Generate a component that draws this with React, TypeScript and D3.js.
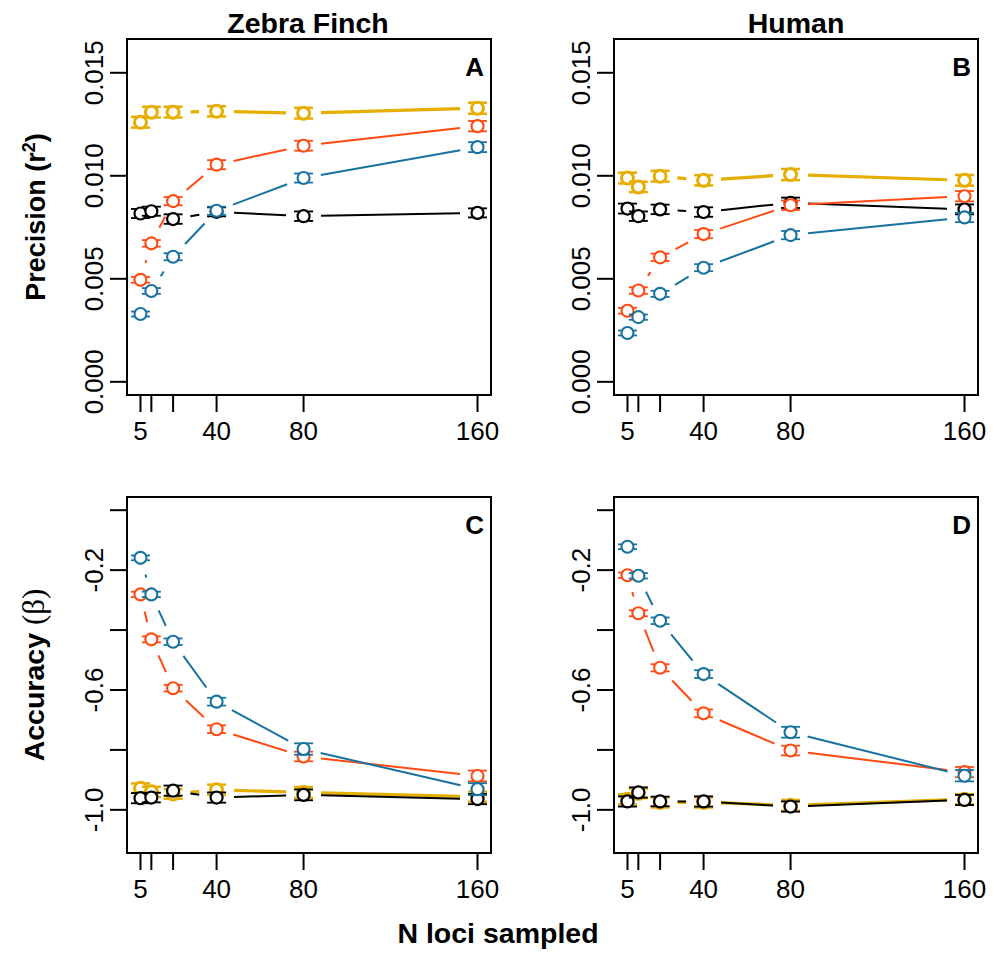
import React from "react";
import * as d3 from "d3";

// ---- data ----
const nLoci = [5, 10, 20, 40, 80, 160];
const xTickValues = [5, 10, 20, 40, 80, 160];
const xTickLabels = ["5", "", "", "40", "80", "160"];
const precisionTicks = [0, 0.005, 0.01, 0.015];
const precisionTickLabels = ["0.000", "0.005", "0.010", "0.015"];
const accuracyTicks = [0, -0.2, -0.4, -0.6, -0.8, -1.0];
const accuracyTickLabels = ["", "-0.2", "", "-0.6", "", "-1.0"];

// Precision, Zebra Finch (A)
const yellowA = [0.0126, 0.01309, 0.01309, 0.01313, 0.01304, 0.01328];
const blackA = [0.00817, 0.00828, 0.0079, 0.00825, 0.00804, 0.0082];
const orangeA = [0.00495, 0.00672, 0.00877, 0.01054, 0.01146, 0.01241];
const blueA = [0.00329, 0.00441, 0.00607, 0.0083, 0.00989, 0.01139];
const yellowErrA = [0.00026, 0.00026, 0.00026, 0.00025, 0.00026, 0.00027];
const blackErrA = [0.00022, 0.00022, 0.00023, 0.00022, 0.00023, 0.00022];
const orangeErrA = [0.00014, 0.00016, 0.0002, 0.00022, 0.00024, 0.00025];
const blueErrA = [0.00012, 0.00014, 0.00017, 0.0002, 0.00022, 0.00024];

// Precision, Human (B)
const yellowB = [0.00989, 0.00946, 0.00998, 0.00978, 0.01006, 0.00978];
const blackB = [0.00841, 0.00804, 0.00837, 0.00824, 0.00869, 0.00837];
const orangeB = [0.00345, 0.00443, 0.00604, 0.00717, 0.00857, 0.00901];
const blueB = [0.00237, 0.00314, 0.00427, 0.00554, 0.00712, 0.00798];
const yellowErrB = [0.00026, 0.00025, 0.00026, 0.00025, 0.00027, 0.00026];
const blackErrB = [0.00024, 0.00023, 0.00023, 0.00023, 0.00025, 0.00024];
const orangeErrB = [0.00014, 0.00016, 0.00018, 0.0002, 0.00023, 0.00025];
const blueErrB = [0.00012, 0.00013, 0.00015, 0.00017, 0.0002, 0.00023];

// Accuracy, Zebra Finch (C)
const yellowC = [-0.928, -0.94, -0.947, -0.933, -0.942, -0.956];
const blackC = [-0.961, -0.959, -0.936, -0.959, -0.95, -0.964];
const orangeC = [-0.281, -0.431, -0.594, -0.731, -0.822, -0.887];
const blueC = [-0.159, -0.281, -0.439, -0.639, -0.797, -0.931];
const yellowErrC = [0.016, 0.017, 0.016, 0.017, 0.018, 0.017];
const blackErrC = [0.017, 0.016, 0.017, 0.017, 0.018, 0.017];
const orangeErrC = [0.009, 0.01, 0.011, 0.013, 0.016, 0.018];
const blueErrC = [0.008, 0.009, 0.011, 0.013, 0.019, 0.02];

// Accuracy, Human (D)
const yellowD = [-0.965, -0.945, -0.975, -0.975, -0.985, -0.965];
const blackD = [-0.972, -0.942, -0.972, -0.972, -0.989, -0.967];
const orangeD = [-0.217, -0.344, -0.526, -0.678, -0.802, -0.874];
const blueD = [-0.122, -0.219, -0.369, -0.547, -0.741, -0.886];
const yellowErrD = [0.017, 0.016, 0.017, 0.017, 0.018, 0.017];
const blackErrD = [0.017, 0.017, 0.016, 0.017, 0.017, 0.017];
const orangeErrD = [0.009, 0.01, 0.012, 0.013, 0.016, 0.017];
const blueErrD = [0.008, 0.009, 0.011, 0.013, 0.018, 0.019];

const colYellow = "#E6AE00";
const colBlack = "#000000";
const colOrange = "#FF4A12";
const colBlue = "#17729F";

type Series = { v: number[]; e: number[]; color: string; lw: number; pw: number };

const styleYellow = { color: colYellow, lw: 3.2, pw: 3 };
const styleBlack = { color: colBlack, lw: 2, pw: 2.2 };
const styleOrange = { color: colOrange, lw: 2, pw: 2.1 };
const styleBlue = { color: colBlue, lw: 2, pw: 2.1 };

const panels = [
  {
    letter: "A", left: 127, top: 39, yDomain: [-0.00064, 0.01664], yTicks: precisionTicks, yLabels: precisionTickLabels,
    series: [
      { v: yellowA, e: yellowErrA, ...styleYellow },
      { v: blackA, e: blackErrA, ...styleBlack },
      { v: orangeA, e: orangeErrA, ...styleOrange },
      { v: blueA, e: blueErrA, ...styleBlue },
    ],
  },
  {
    letter: "B", left: 614, top: 39, yDomain: [-0.00064, 0.01664], yTicks: precisionTicks, yLabels: precisionTickLabels,
    series: [
      { v: yellowB, e: yellowErrB, ...styleYellow },
      { v: blackB, e: blackErrB, ...styleBlack },
      { v: orangeB, e: orangeErrB, ...styleOrange },
      { v: blueB, e: blueErrB, ...styleBlue },
    ],
  },
  {
    letter: "C", left: 127, top: 497, yDomain: [-1.144, 0.044], yTicks: accuracyTicks, yLabels: accuracyTickLabels,
    series: [
      { v: yellowC, e: yellowErrC, ...styleYellow },
      { v: blackC, e: blackErrC, ...styleBlack },
      { v: orangeC, e: orangeErrC, ...styleOrange },
      { v: blueC, e: blueErrC, ...styleBlue },
    ],
  },
  {
    letter: "D", left: 614, top: 497, yDomain: [-1.144, 0.044], yTicks: accuracyTicks, yLabels: accuracyTickLabels,
    series: [
      { v: yellowD, e: yellowErrD, ...styleYellow },
      { v: blackD, e: blackErrD, ...styleBlack },
      { v: orangeD, e: orangeErrD, ...styleOrange },
      { v: blueD, e: blueErrD, ...styleBlue },
    ],
  },
];

const W = 364;
const H = 356;
const GAP = 17.5;
const R = 6;
const CAP = 9.5;
const FONT = "Liberation Sans, Arial, Helvetica, sans-serif";

function Panel({ p }: { p: (typeof panels)[number] }) {
  const x = d3.scaleLinear().domain([-1.2, 166.2]).range([p.left, p.left + W]);
  const y = d3.scaleLinear().domain(p.yDomain).range([p.top + H, p.top]);
  const bottom = p.top + H;
  return (
    <g>
      {p.series.map((s: Series, si: number) => {
        const pts = nLoci.map((n, i) => [x(n), y(s.v[i])] as [number, number]);
        const segs: React.ReactNode[] = [];
        for (let i = 0; i < pts.length - 1; i++) {
          const [x0, y0] = pts[i];
          const [x1, y1] = pts[i + 1];
          const dx = x1 - x0, dy = y1 - y0;
          const len = Math.hypot(dx, dy);
          if (len <= 2 * GAP) continue;
          const ux = dx / len, uy = dy / len;
          segs.push(
            <line key={"s" + i} x1={x0 + ux * GAP} y1={y0 + uy * GAP} x2={x1 - ux * GAP} y2={y1 - uy * GAP}
              stroke={s.color} strokeWidth={s.lw} />
          );
        }
        return (
          <g key={si}>
            {segs}
            {nLoci.map((n, i) => {
              const cx = x(n);
              const yt = y(s.v[i] + s.e[i]);
              const yb = y(s.v[i] - s.e[i]);
              const ew = s.pw * 0.85;
              return (
                <g key={"e" + i}>
                  <line x1={cx} x2={cx} y1={yt} y2={yb} stroke={s.color} strokeWidth={ew} />
                  <line x1={cx - CAP} x2={cx + CAP} y1={yt} y2={yt} stroke={s.color} strokeWidth={ew} />
                  <line x1={cx - CAP} x2={cx + CAP} y1={yb} y2={yb} stroke={s.color} strokeWidth={ew} />
                  <circle cx={cx} cy={y(s.v[i])} r={R} fill="white" stroke={s.color} strokeWidth={s.pw} />
                </g>
              );
            })}
          </g>
        );
      })}
      <rect x={p.left} y={p.top} width={W} height={H} fill="none" stroke="black" strokeWidth={2} />
      {xTickValues.map((t, i) => (
        <g key={"xt" + i}>
          <line x1={x(t)} x2={x(t)} y1={bottom} y2={bottom + 17} stroke="black" strokeWidth={2} />
          {xTickLabels[i] && (
            <text x={x(t)} y={bottom + 45} textAnchor="middle" fontFamily={FONT} fontSize={26}>{xTickLabels[i]}</text>
          )}
        </g>
      ))}
      {p.yTicks.map((t, i) => (
        <g key={"yt" + i}>
          <line x1={p.left - 17} x2={p.left} y1={y(t)} y2={y(t)} stroke="black" strokeWidth={2} />
          {p.yLabels[i] && (
            <text transform={`translate(${p.left - 24},${y(t)}) rotate(-90)`} textAnchor="middle"
              fontFamily={FONT} fontSize={26}>{p.yLabels[i]}</text>
          )}
        </g>
      ))}
      <text x={p.left + W - 7} y={p.top + 37} textAnchor="end" fontFamily={FONT} fontSize={26} fontWeight="bold">{p.letter}</text>
    </g>
  );
}

export default function App() {
  return (
    <svg width={993} height={954} style={{ position: "absolute", left: 0, top: 0, background: "white" }}>
      <rect x={0} y={0} width={993} height={954} fill="white" />
      {panels.map((p) => <Panel key={p.letter} p={p} />)}
      <text x={308} y={33} textAnchor="middle" fontFamily={FONT} fontSize={28.5} fontWeight="bold">Zebra Finch</text>
      <text x={796} y={33} textAnchor="middle" fontFamily={FONT} fontSize={28.5} fontWeight="bold">Human</text>
      <text x={498} y={943} textAnchor="middle" fontFamily={FONT} fontSize={28.5} fontWeight="bold">N loci sampled</text>
      <text transform="translate(45,217) rotate(-90)" textAnchor="middle" fontFamily={FONT} fontSize={27} fontWeight="bold">
        Precision (r<tspan dy={-10} fontSize={18}>2</tspan><tspan dy={10}>)</tspan>
      </text>
      <text transform="translate(44,675) rotate(-90)" textAnchor="middle" fontFamily={FONT} fontSize={28.5} fontWeight="bold">
        Accuracy <tspan fontFamily="Liberation Serif, DejaVu Serif, serif" fontWeight="normal" fontSize={31}>(β)</tspan>
      </text>
    </svg>
  );
}
